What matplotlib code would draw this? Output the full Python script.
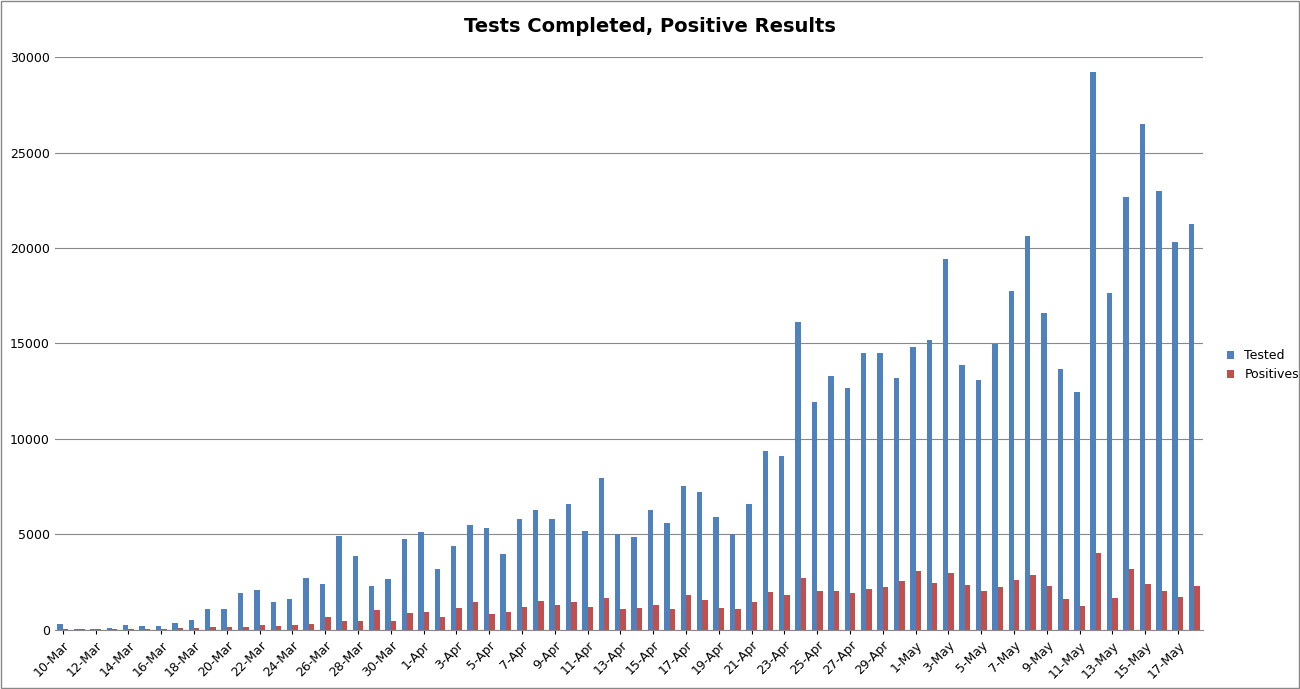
import matplotlib
matplotlib.use("Agg")
import matplotlib.pyplot as plt
import numpy as np
import datetime as dt

start = dt.date(2020, 3, 10)
dates = [start + dt.timedelta(days=i) for i in range(70)]
labels = [f"{d.day}-{d.strftime('%b')}" for d in dates]

tested = [300, 50, 60, 80, 250, 200, 200, 350, 500, 1100, 1100, 1900, 2100, 1450, 1600, 2700, 2400, 4900, 3850, 2300, 2650, 4750,
          5100, 3200, 4400, 5500, 5350, 3950, 5800, 6300, 5800, 6600, 5200, 7950, 5000, 4850, 6300, 5600, 7550, 7200, 5900, 5000,
          6600, 9350, 9100, 16100, 11950, 13300, 12650, 14500, 14500, 13200,
          14800, 15200, 19400, 13850, 13100, 14950, 17750, 20650, 16600, 13650, 12450, 29250, 17650, 22700, 26500, 23000, 20300, 21250]
positives = [20, 20, 30, 30, 50, 60, 50, 80, 100, 150, 150, 170, 250, 200, 250, 300, 650, 450, 450, 1050, 470, 900,
             950, 650, 1150, 1450, 850, 950, 1200, 1500, 1300, 1450, 1200, 1650, 1100, 1150, 1300, 1100, 1800, 1550, 1150, 1100,
             1450, 2000, 1800, 2700, 2050, 2050, 1950, 2150, 2250, 2550,
             3100, 2450, 2950, 2350, 2050, 2250, 2600, 2850, 2300, 1600, 1250, 4000, 1650, 3200, 2400, 2050, 1700, 2300]

fig = plt.figure(figsize=(13, 6.89), dpi=100)
fig.patches.append(plt.Rectangle((0.001, 0.001), 0.998, 0.998, transform=fig.transFigure,
                                 fill=False, edgecolor="#888888", linewidth=1))
ax = fig.add_axes([0.042, 0.086, 0.883, 0.831])
x = np.arange(len(labels))
w = 0.33
ax.bar(x - w/2, tested, w, color="#4F81BD", label="Tested", zorder=3)
ax.bar(x + w/2, positives, w, color="#C0504D", label="Positives", zorder=3)
ax.set_xlim(-0.5, len(labels) - 0.5)
ax.set_ylim(0, 30000)
ax.set_yticks(range(0, 30001, 5000))
ax.yaxis.grid(True, color="#888888", linewidth=0.8, zorder=0)
ax.set_xticks(x[::2])
ax.set_xticklabels(labels[::2], rotation=45, ha="right", rotation_mode="anchor", fontsize=9)
ax.tick_params(axis="y", length=0, labelsize=9)
ax.tick_params(axis="x", length=3)
for s in ["top", "right", "left"]:
    ax.spines[s].set_visible(False)
ax.spines["bottom"].set_color("#888888")
fig.suptitle("Tests Completed, Positive Results", fontsize=14, fontweight="bold", y=0.975)
fig.legend(loc="center left", bbox_to_anchor=(0.935, 0.47), frameon=False, fontsize=9,
           handlelength=0.6, handleheight=0.6)
fig.savefig("out.png", dpi=100)
